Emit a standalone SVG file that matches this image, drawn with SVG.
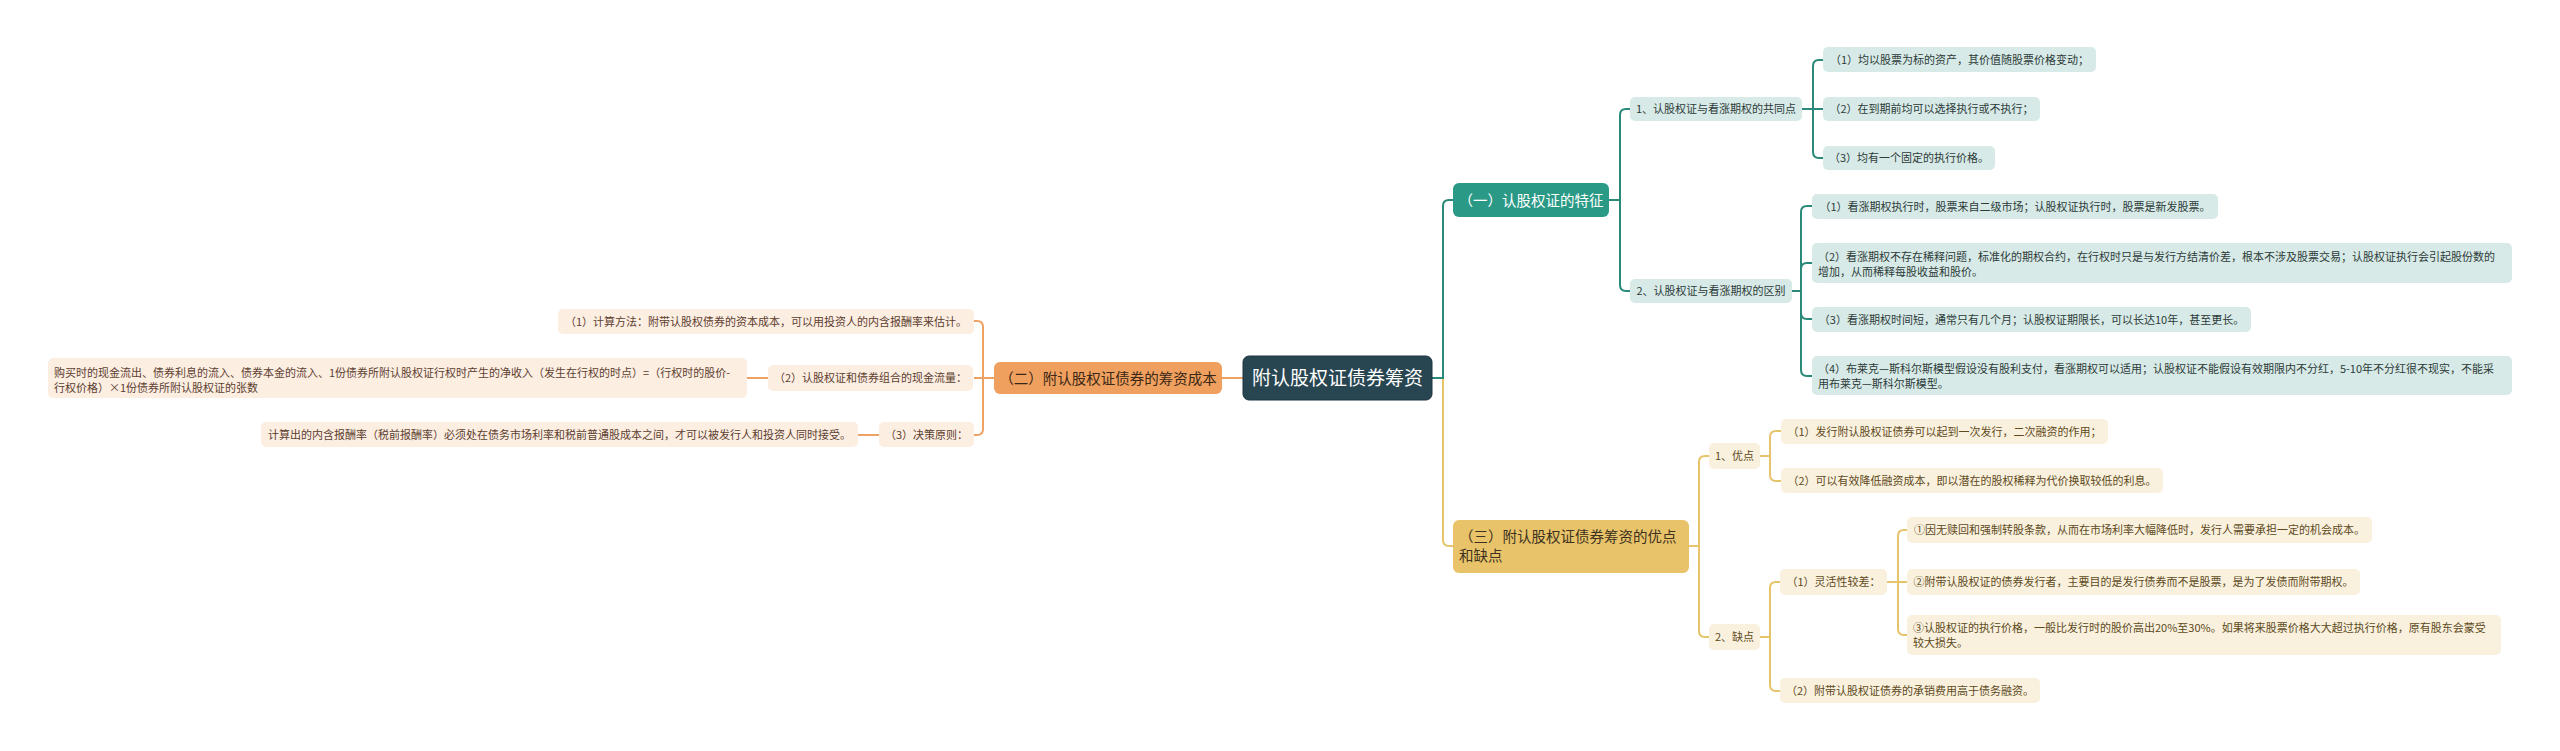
<svg xmlns="http://www.w3.org/2000/svg" width="2560" height="751" viewBox="0 0 2560 751">
<style>
text{font-family:"Noto Sans CJK SC","Microsoft YaHei",sans-serif;}
.lt{fill:none;stroke:#2a8a79;stroke-width:2;}
.lo{fill:none;stroke:#eda263;stroke-width:2;}
.ly{fill:none;stroke:#e6c46c;stroke-width:2;}
.rt{fill:#d7eae7;}
.ro{fill:#fdeee2;}
.ry{fill:#f9f1de;}
.tt{font-size:11px;fill:#2d3b39;}
.to{font-size:11px;fill:#5c4030;}
.ty{font-size:11px;fill:#5e4a1c;}
.m{text-anchor:middle;}
.l1{font-size:14.5px;}
</style>
<rect width="2560" height="751" fill="#ffffff"/>
<g id="connectors">
<path class="ly" d="M1432,378 H1443 V540 Q1443,546 1449,546 H1453"/>
<path class="lt" d="M1432,378 H1443 V206 Q1443,200 1449,200 H1453"/>
<path class="lo" d="M1243,378 H1222"/>
<path class="lt" d="M1609,200 H1620 V115 Q1620,109 1626,109 H1630"/>
<path class="lt" d="M1609,200 H1620 V285 Q1620,291 1626,291 H1630"/>
<path class="lt" d="M1802,109 H1813 V66 Q1813,60 1819,60 H1823"/>
<path class="lt" d="M1802,109 H1823"/>
<path class="lt" d="M1802,109 H1813 V152 Q1813,158 1819,158 H1823"/>
<path class="lt" d="M1792,291 H1801 V212 Q1801,206 1807,206 H1812"/>
<path class="lt" d="M1792,291 H1801 V269 Q1801,263 1807,263 H1812"/>
<path class="lt" d="M1792,291 H1801 V313 Q1801,319 1807,319 H1812"/>
<path class="lt" d="M1792,291 H1801 V370 Q1801,376 1807,376 H1812"/>
<path class="lo" d="M994,378 H983 V327 Q983,321 977,321 H974"/>
<path class="lo" d="M994,378 H974"/>
<path class="lo" d="M994,378 H983 V429 Q983,435 977,435 H974"/>
<path class="lo" d="M768,378 H747"/>
<path class="lo" d="M879,435 H858"/>
<path class="ly" d="M1689,546 H1699 V462 Q1699,456 1705,456 H1709"/>
<path class="ly" d="M1689,546 H1699 V631 Q1699,637 1705,637 H1709"/>
<path class="ly" d="M1760,456 H1770 V437 Q1770,431 1776,431 H1781"/>
<path class="ly" d="M1760,456 H1770 V475 Q1770,481 1776,481 H1781"/>
<path class="ly" d="M1760,637 H1770 V588 Q1770,582 1776,582 H1780"/>
<path class="ly" d="M1760,637 H1770 V685 Q1770,691 1776,691 H1780"/>
<path class="ly" d="M1887,582 H1898 V536 Q1898,530 1904,530 H1907"/>
<path class="ly" d="M1887,582 H1907"/>
<path class="ly" d="M1887,582 H1898 V629 Q1898,635 1904,635 H1907"/>
</g>
<g id="root">
<rect x="1243" y="356" width="189" height="44" rx="6" fill="#284552" stroke="#1d3540" stroke-width="1"/>
<text x="1337.5" y="385" class="m" style="font-size:19px;fill:#ffffff">附认股权证债券筹资</text>
</g>
<g id="n-teal">
<rect x="1453" y="183" width="156" height="34" rx="6" fill="#2a9a87"/>
<text x="1531" y="205.5" class="m l1" fill="#ffffff">（一）认股权证的特征</text>
</g>
<g id="n-teal-1">
<rect class="rt" x="1630" y="97" width="172" height="24" rx="5"/>
<text class="tt m" x="1716" y="113">1、认股权证与看涨期权的共同点</text>
</g>
<g id="n-teal-1-1">
<rect class="rt" x="1823" y="47" width="273" height="25" rx="5"/>
<text class="tt m" x="1959.5" y="63.5">（1）均以股票为标的资产，其价值随股票价格变动；</text>
</g>
<g id="n-teal-1-2">
<rect class="rt" x="1823" y="97" width="217" height="24" rx="5"/>
<text class="tt m" x="1931.5" y="113">（2）在到期前均可以选择执行或不执行；</text>
</g>
<g id="n-teal-1-3">
<rect class="rt" x="1823" y="146" width="172" height="24" rx="5"/>
<text class="tt m" x="1909" y="162">（3）均有一个固定的执行价格。</text>
</g>
<g id="n-teal-2">
<rect class="rt" x="1630" y="279" width="162" height="24" rx="5"/>
<text class="tt m" x="1711" y="295">2、认股权证与看涨期权的区别</text>
</g>
<g id="n-teal-2-1">
<rect class="rt" x="1812" y="194" width="406" height="25" rx="5"/>
<text class="tt m" x="2015" y="210.5">（1）看涨期权执行时，股票来自二级市场；认股权证执行时，股票是新发股票。</text>
</g>
<g id="n-teal-2-2">
<rect class="rt" x="1812" y="243" width="700" height="40" rx="5"/>
<text class="tt" x="1818" y="261">（2）看涨期权不存在稀释问题，标准化的期权合约，在行权时只是与发行方结清价差，根本不涉及股票交易；认股权证执行会引起股份数的</text>
<text class="tt" x="1818" y="276">增加，从而稀释每股收益和股价。</text>
</g>
<g id="n-teal-2-3">
<rect class="rt" x="1812" y="307" width="439" height="25" rx="5"/>
<text class="tt m" x="2031.5" y="323.5">（3）看涨期权时间短，通常只有几个月；认股权证期限长，可以长达10年，甚至更长。</text>
</g>
<g id="n-teal-2-4">
<rect class="rt" x="1812" y="356" width="700" height="39" rx="5"/>
<text class="tt" x="1818" y="373">（4）布莱克—斯科尔斯模型假设没有股利支付，看涨期权可以适用；认股权证不能假设有效期限内不分红，5-10年不分红很不现实，不能采</text>
<text class="tt" x="1818" y="388">用布莱克—斯科尔斯模型。</text>
</g>
<g id="n-orange">
<rect x="994" y="362" width="228" height="32" rx="6" fill="#f0a05e"/>
<text x="1108" y="383.5" class="m l1" fill="#3a2716">（二）附认股权证债券的筹资成本</text>
</g>
<g id="n-orange-1">
<rect class="ro" x="558" y="309" width="416" height="25" rx="5"/>
<text class="to m" x="766" y="325.5">（1）计算方法：附带认股权债券的资本成本，可以用投资人的内含报酬率来估计。</text>
</g>
<g id="n-orange-2">
<rect class="ro" x="768" y="365" width="205" height="26" rx="5"/>
<text class="to m" x="870.5" y="382">（2）认股权证和债券组合的现金流量：</text>
</g>
<g id="n-orange-2-1">
<rect class="ro" x="48" y="358" width="699" height="40" rx="5"/>
<text class="to" x="54" y="377">购买时的现金流出、债券利息的流入、债券本金的流入、1份债券所附认股权证行权时产生的净收入（发生在行权的时点）=（行权时的股价-</text>
<text class="to" x="54" y="392">行权价格）×1份债券所附认股权证的张数</text>
</g>
<g id="n-orange-3">
<rect class="ro" x="879" y="422" width="95" height="25" rx="5"/>
<text class="to m" x="926.5" y="438.5">（3）决策原则：</text>
</g>
<g id="n-orange-3-1">
<rect class="ro" x="261" y="422" width="597" height="25" rx="5"/>
<text class="to m" x="559.5" y="438.5">计算出的内含报酬率（税前报酬率）必须处在债务市场利率和税前普通股成本之间，才可以被发行人和投资人同时接受。</text>
</g>
<g id="n-yellow">
<rect x="1453" y="520" width="236" height="53" rx="6" fill="#e8c36a"/>
<text x="1459" y="542" class="l1" fill="#3d3220">（三）附认股权证债券筹资的优点</text>
<text x="1459" y="561" class="l1" fill="#3d3220">和缺点</text>
</g>
<g id="n-yellow-1">
<rect class="ry" x="1709" y="443" width="51" height="26" rx="5"/>
<text class="ty m" x="1734.5" y="460">1、优点</text>
</g>
<g id="n-yellow-1-1">
<rect class="ry" x="1781" y="419" width="327" height="25" rx="5"/>
<text class="ty m" x="1944.5" y="435.5">（1）发行附认股权证债券可以起到一次发行，二次融资的作用；</text>
</g>
<g id="n-yellow-1-2">
<rect class="ry" x="1781" y="468" width="382" height="25" rx="5"/>
<text class="ty m" x="1972" y="484.5">（2）可以有效降低融资成本，即以潜在的股权稀释为代价换取较低的利息。</text>
</g>
<g id="n-yellow-2">
<rect class="ry" x="1709" y="624" width="51" height="26" rx="5"/>
<text class="ty m" x="1734.5" y="641">2、缺点</text>
</g>
<g id="n-yellow-2-1">
<rect class="ry" x="1780" y="569" width="107" height="26" rx="5"/>
<text class="ty m" x="1833.5" y="586">（1）灵活性较差：</text>
</g>
<g id="n-yellow-2-1-1">
<rect class="ry" x="1907" y="517" width="465" height="26" rx="5"/>
<text class="ty m" x="2139.5" y="534">①因无赎回和强制转股条款，从而在市场利率大幅降低时，发行人需要承担一定的机会成本。</text>
</g>
<g id="n-yellow-2-1-2">
<rect class="ry" x="1907" y="569" width="453" height="26" rx="5"/>
<text class="ty m" x="2133.5" y="586">②附带认股权证的债券发行者，主要目的是发行债券而不是股票，是为了发债而附带期权。</text>
</g>
<g id="n-yellow-2-1-3">
<rect class="ry" x="1907" y="615" width="594" height="40" rx="5"/>
<text class="ty" x="1913" y="632">③认股权证的执行价格，一般比发行时的股价高出20%至30%。如果将来股票价格大大超过执行价格，原有股东会蒙受</text>
<text class="ty" x="1913" y="647">较大损失。</text>
</g>
<g id="n-yellow-2-2">
<rect class="ry" x="1780" y="678" width="260" height="25" rx="5"/>
<text class="ty m" x="1910" y="694.5">（2）附带认股权证债券的承销费用高于债务融资。</text>
</g>
</svg>
